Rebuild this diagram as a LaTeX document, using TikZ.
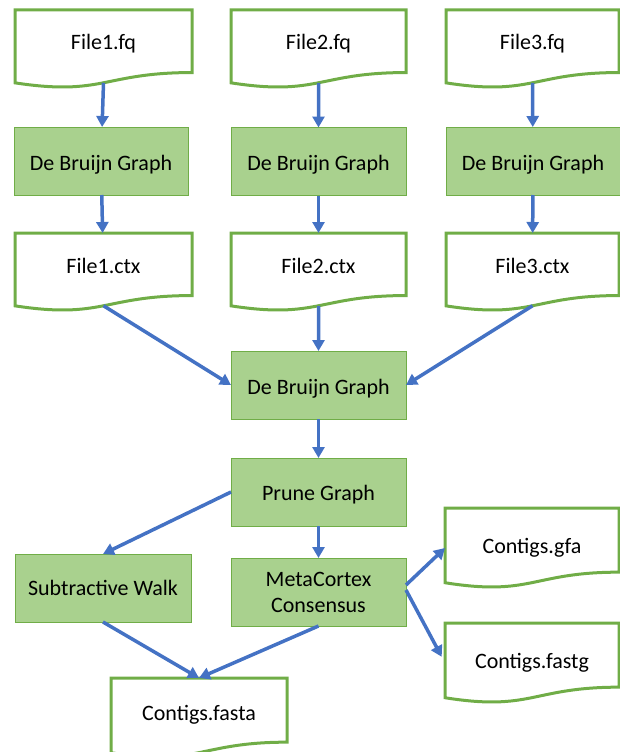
\documentclass[tikz,border=0pt]{standalone}
\usepackage{fontspec}
\setmainfont{Carlito}
\usetikzlibrary{calc,arrows.meta}
\definecolor{gline}{HTML}{70AD47}
\definecolor{gfill}{HTML}{A9D18E}
\definecolor{ablue}{HTML}{4472C4}
\tikzset{
  doc/.style={inner sep=0pt, outer sep=0pt, minimum height=78pt, anchor=north west,
    font=\fontsize{22}{26}\selectfont},
  uptext/.style={text height=10pt, text depth=8pt},
  lowtext/.style={text height=21pt, text depth=3pt},
  docline/.style={draw=gline, line width=3pt, line join=miter},
  proc/.style={draw=gline, fill=gfill, line width=1pt, inner sep=0pt, outer sep=0pt,
    minimum width=175pt, minimum height=68pt, align=center,
    font=\fontsize{22}{26}\selectfont},
  arr/.style={draw=ablue, line width=3.5pt, -{Triangle[length=11pt,width=12pt]}}
}
\begin{document}
\begin{tikzpicture}[x=1pt,y=-1pt]
\useasboundingbox (0,0) rectangle (620,752);
% document nodes
\node[doc, uptext, minimum width=177pt] (f1) at (15,10) {File1.fq};
\node[doc, uptext, minimum width=175pt] (f2) at (231,10) {File2.fq};
\node[doc, uptext, minimum width=173pt] (f3) at (446,10) {File3.fq};
\node[doc, uptext, minimum width=177pt] (c1) at (15,233) {File1.ctx};
\node[doc, uptext, minimum width=175pt] (c2) at (231,233) {File2.ctx};
\node[doc, uptext, minimum width=173pt] (c3) at (446,233) {File3.ctx};
\node[doc, text height=12pt, text depth=8pt, minimum width=176pt, minimum height=80pt] (fa) at (111,678) {Contigs.fasta};
\node[doc, minimum width=174pt, minimum height=80pt] (gf) at (445,508) {Contigs.gfa};
\node[doc, minimum width=174pt, minimum height=80pt] (fg) at (445,623) {Contigs.fastg};
\foreach \n in {f1,f2,f3,c1,c2,c3,fa,gf,fg} {
  \draw[docline] (\n.north west) -- (\n.north east)
    -- ($(\n.north east)!0.802!(\n.south east)$)
    .. controls ($(\n.north)!0.802!(\n.south)$) and ($(\n.north)!1.107!(\n.south)$)
    .. ($(\n.north west)!0.934!(\n.south west)$) -- cycle;
  \coordinate (\n b) at ($(\n.north)!0.933!(\n.south)$);
}
% process nodes
\node[proc, lowtext, minimum width=174pt] (d1) at (101,161) {De Bruijn Graph};
\node[proc, lowtext] (d2) at (318.5,161.5) {De Bruijn Graph};
\node[proc, lowtext, minimum width=174pt] (d3) at (533,161) {De Bruijn Graph};
\node[proc, lowtext] (dm) at (318.5,385) {De Bruijn Graph};
\node[proc, text height=19pt, text depth=3pt] (pr) at (318.5,492) {Prune Graph};
\node[proc, minimum width=176pt] (sw) at (103,588) {Subtractive Walk};
\node[proc] (mc) at (318.5,592) {MetaCortex\\Consensus};
% connectors
\draw[arr] (f1b) -- (d1);
\draw[arr] (f2b) -- (d2);
\draw[arr] (f3b) -- (d3);
\draw[arr] (d1) -- (c1);
\draw[arr] (d2) -- (c2);
\draw[arr] (d3) -- (c3);
\draw[arr] (c1b) -- (dm.west);
\draw[arr] (c2b) -- (dm.north);
\draw[arr] (c3b) -- (dm.east);
\draw[arr] (dm) -- (pr);
\draw[arr] (pr.west) -- (sw.north);
\draw[arr] (pr.south) -- (mc.north);
\draw[arr] (sw.south) -- (fa.north);
\draw[arr] (mc.south) -- (fa.north);
\draw[arr] ([yshift=7pt]mc.east) -- (gf.west);
\draw[arr, shorten >=7pt] ([yshift=2pt]mc.east) -- (fg.west);
\end{tikzpicture}
\end{document}
